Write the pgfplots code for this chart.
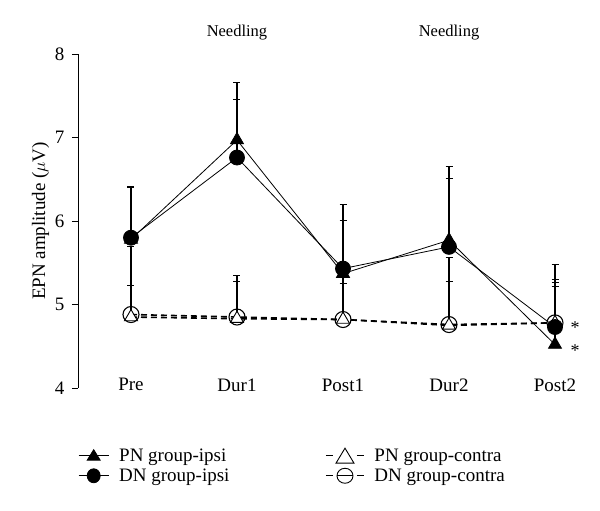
\documentclass[border=0pt]{standalone}
\usepackage{pgfplots}
\pgfplotsset{compat=1.18}
\usepackage{fontspec}
\setmainfont{Liberation Serif}

\begin{document}
\begin{tikzpicture}[x=1pt,y=1pt]
\path[use as bounding box] (-78,-123) rectangle (522,388);
\begin{axis}[
  at={(0,0)}, anchor=south west,
  scale only axis, width=530pt, height=334pt,
  xmin=-0.5, xmax=4.5, ymin=4, ymax=8,
  clip=false,
  axis y line*=left, axis x line*=bottom,
  x axis line style={draw=none},
  y axis line style={line width=0.9pt},
  xtick={0,1,2,3,4},
  xticklabels={Pre,Dur1,Post1,Dur2,Post2},
  major x tick style={draw=none},
  xticklabel style={yshift=19pt},
  yticklabel style={xshift=-4pt},
  ytick={4,5,6,7,8},
  tick align=outside,
  major tick length=6pt,
  major y tick style={line width=0.9pt, black},
  /pgf/number format/assume math mode=true,
  tick label style={font=\fontsize{19}{21}\selectfont},
  ylabel={EPN amplitude ($\mu$V)},
  ylabel style={font=\fontsize{19}{21}\selectfont, yshift=-1pt},
  legend columns=2,
  legend style={at={(0,-0.178)}, anchor=north west, draw=none,
    font=\fontsize{19}{21}\selectfont,
    column sep=0pt, row sep=4pt, inner sep=0pt,
    nodes={inner sep=1pt},
    /tikz/every odd column/.append style={column sep=9pt},
    /tikz/every even column/.append style={column sep=95pt}},
  legend cell align=left,
  error bars/y dir=plus, error bars/y explicit,
  error bars/error bar style={solid, line width=1.4pt, black},
  error bars/error mark options={solid, rotate=90, mark size=3.5pt, line width=1pt},
]
% PN group-ipsi
\addplot[black, line width=0.8pt, mark=triangle*, mark size=7.5pt,
  mark options={solid, fill=black},
  legend image code/.code={%
    \draw[solid, line width=1pt] (0pt,0pt) -- (30pt,0pt);
    \fill[black] (15pt,6pt) -- (8.5pt,-4.5pt) -- (21.5pt,-4.5pt) -- cycle;}]
  coordinates {(0,5.78) +- (0,0.63) (1,6.97) +- (0,0.69) (2,5.37) +- (0,0.83)
               (3,5.77) +- (0,0.88) (4,4.52) +- (0,0.96)};
\addlegendentry{PN group-ipsi}
% PN group-contra
\addplot[black, line width=1.6pt, dash pattern=on 6pt off 4pt, mark=triangle*,
  mark size=7.5pt, mark options={solid, fill=white, line width=0.9pt},
  legend image code/.code={%
    \draw[solid, line width=1pt] (0pt,0pt) -- (7pt,0pt) (31pt,0pt) -- (38pt,0pt);
    \draw[solid, line width=0.9pt, fill=white] (19pt,7.5pt) -- (10pt,-7.5pt) -- (28pt,-7.5pt) -- cycle;}]
  coordinates {(0,4.85) +- (0,0.84) (1,4.83) +- (0,0.52) (2,4.82) +- (0,0.53)
               (3,4.75) +- (0,0.81) (4,4.78) +- (0,0.48)};
\addlegendentry{PN group-contra}
% DN group-ipsi
\addplot[black, line width=0.8pt, mark=*, mark size=7.5pt,
  mark options={solid, fill=black},
  legend image code/.code={%
    \draw[solid, line width=1pt] (0pt,0pt) -- (30pt,0pt);
    \fill[black] (15pt,0pt) ellipse[x radius=6.5pt, y radius=7pt];}]
  coordinates {(0,5.80) +- (0,0.60) (1,6.76) +- (0,0.69) (2,5.43) +- (0,0.58)
               (3,5.69) +- (0,0.82) (4,4.73) +- (0,0.57)};
\addlegendentry{DN group-ipsi}
% DN group-contra
\addplot[black, line width=1.6pt, dash pattern=on 6pt off 4pt, mark=o,
  mark size=8pt, mark options={solid, line width=1.1pt},
  legend image code/.code={%
    \draw[solid, line width=1pt] (0pt,0pt) -- (7pt,0pt) (31pt,0pt) -- (38pt,0pt);
    \draw[solid, line width=0.9pt, fill=white] (19pt,0pt) ellipse[x radius=8pt, y radius=7.5pt];
    \draw[solid, line width=1pt] (11pt,0pt) -- (27pt,0pt);}]
  coordinates {(0,4.88) +- (0,0.35) (1,4.85) +- (0,0.42) (2,4.82) +- (0,0.43)
               (3,4.76) +- (0,0.52) (4,4.78) +- (0,0.43)};
\addlegendentry{DN group-contra}

\node[font=\fontsize{16.5}{18}\selectfont] at (axis cs:1,8.26) {Needling};
\node[font=\fontsize{16.5}{18}\selectfont] at (axis cs:3,8.26) {Needling};
\node[font=\fontsize{18}{18}\selectfont] at (axis cs:4.19,4.72) {*};
\node[font=\fontsize{18}{18}\selectfont] at (axis cs:4.19,4.45) {*};
\end{axis}
\end{tikzpicture}
\end{document}
